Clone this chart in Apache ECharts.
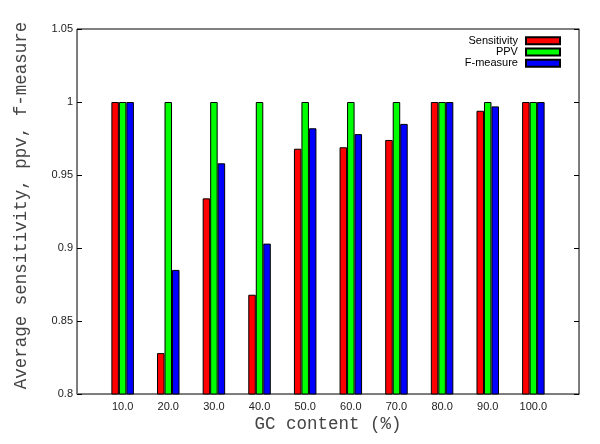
<!DOCTYPE html>
<html>
<head>
<meta charset="utf-8">
<script src="https://cdn.jsdelivr.net/npm/echarts@6/dist/echarts.min.js"></script>
<style>
  html, body { margin: 0; padding: 0; background: #fff; }
  #chart { width: 600px; height: 444px; }
</style>
</head>
<body>
<div id="chart"></div>
<script>
// GC content (%) categories
const gcContent = [10, 20, 30, 40, 50, 60, 70, 80, 90, 100];
// averages
const sensitivity = [1.0, 0.828, 0.934, 0.868, 0.968, 0.969, 0.974, 1.0, 0.994, 1.0];
const ppv = [1.0, 1.0, 1.0, 1.0, 1.0, 1.0, 1.0, 1.0, 1.0, 1.0];
const fMeasure = [1.0, 0.885, 0.958, 0.903, 0.982, 0.978, 0.985, 1.0, 0.997, 1.0];
const yTicks = [0.8, 0.85, 0.9, 0.95, 1, 1.05];

const monoFont = '"Liberation Mono", "DejaVu Sans Mono", monospace';
const sansFont = '"Liberation Sans", Arial, sans-serif';

let chart = echarts.init(document.getElementById('chart'));

// bars of one series, placed at their GC value on the x axis
let toPairs = values => values.map((v, i) => [gcContent[i], v]);

let barSeries = (name, color, values) => ({
	name: name,
	type: 'bar',
	data: toPairs(values),
	barWidth: 7.5,
	barGap: '0%',
	itemStyle: {
		color: color,
		borderColor: '#000',
		borderWidth: 1
	}
});

let yAxisBase = {
	type: 'value',
	min: 0.8,
	max: 1.05,
	interval: 0.05,
	splitLine: { show: false },
	axisLine: { show: true, lineStyle: { color: '#7a7a7a', width: 1 } },
	axisTick: { show: true, inside: true, length: 5, lineStyle: { color: '#000' } }
};

let options = {
	animation: false,
	backgroundColor: '#fff',
	grid: {
		left: 77,
		right: 21,
		top: 29,
		bottom: 50,
		show: true,
		borderColor: '#000',
		borderWidth: 1
	},
	legend: {
		orient: 'vertical',
		right: 34,
		top: 30,
		align: 'right',
		itemWidth: 34,
		itemHeight: 7,
		itemGap: 0,
		icon: 'rect',
		selectedMode: false,
		formatter: name => name + ' ',
		textStyle: {
			fontFamily: sansFont,
			fontSize: 11,
			color: '#000',
			lineHeight: 11.3
		},
		data: ['Sensitivity', 'PPV', 'F-measure']
	},
	xAxis: {
		type: 'value',
		min: 0,
		max: 110,
		interval: 10,
		name: 'GC content (%)',
		nameLocation: 'middle',
		nameGap: 21,
		nameMoveOverlap: false,
		nameTextStyle: { fontFamily: monoFont, fontSize: 17.5, color: '#444' },
		splitLine: { show: false },
		axisLine: { show: true, lineStyle: { color: '#7a7a7a', width: 1 } },
		axisTick: { show: false },
		axisLabel: {
			fontFamily: sansFont,
			fontSize: 11,
			color: '#222',
			margin: 7,
			formatter: v => (gcContent.indexOf(v) >= 0 ? v.toFixed(1) : '')
		}
	},
	yAxis: [
		Object.assign({}, yAxisBase, {
			position: 'left',
			name: 'Average sensitivity, ppv, f-measure',
			nameLocation: 'middle',
			nameGap: 47,
			nameMoveOverlap: false,
			nameTextStyle: {
				fontFamily: monoFont,
				fontSize: 17.5,
				color: '#444',
				padding: [0, 0, 0, 12]
			},
			axisLabel: {
				fontFamily: sansFont,
				fontSize: 11,
				color: '#222',
				margin: 4,
				formatter: v => {
					let t = yTicks.find(k => Math.abs(k - v) < 1e-9);
					return t === undefined ? '' : String(t);
				}
			}
		}),
		Object.assign({}, yAxisBase, {
			position: 'right',
			axisLabel: { show: false }
		})
	],
	series: [
		barSeries('Sensitivity', '#ff0000', sensitivity),
		barSeries('PPV', '#00ff00', ppv),
		barSeries('F-measure', '#0000ff', fMeasure)
	]
};

chart.setOption(options);
</script>
</body>
</html>
